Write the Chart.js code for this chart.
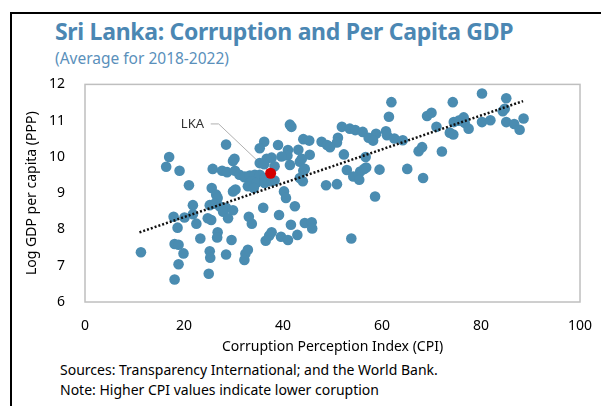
<!DOCTYPE html>
<html>
<head>
<meta charset="utf-8">
<script src="https://cdn.jsdelivr.net/npm/chart.js@4.4.1/dist/chart.umd.min.js"></script>
<style>
    body { margin: 0; background: #fff; width: 601px; height: 406px; overflow: hidden; font-family: "Noto Sans", sans-serif; }
    #frame { position: absolute; left: 10px; top: 12px; width: 600px; height: 400px; border-left: 2px solid #000; border-top: 2px solid #000; }
    #title { position: absolute; left: 55px; top: 15px; font-size: 23px; font-weight: bold; color: #4b87b3; letter-spacing: -0.3px; white-space: nowrap; }
    #subtitle { position: absolute; left: 55px; top: 47px; font-size: 15.5px; color: #5a90bb; white-space: nowrap; }
    #wrap { position: absolute; left: 0; top: 64px; width: 601px; height: 291px; }
    .note { position: absolute; left: 60px; font-size: 14px; color: #000; white-space: nowrap; }
</style>
</head>
<body>
<div id="frame"></div>
<div id="title">Sri Lanka: Corruption and Per Capita GDP</div>
<div id="subtitle">(Average for 2018-2022)</div>
<div id="wrap"><canvas id="chart"></canvas></div>
<div class="note" style="top: 360px;">Sources: Transparency International; and the World Bank.</div>
<div class="note" style="top: 380px;">Note: Higher CPI values indicate lower coruption</div>
<script>
// country points: CPI score and log GDP per capita (PPP)
const cpiValues = [
    11.3, 17.0, 16.4, 19.1, 25.8, 27.7, 28.7, 30.3, 29.9, 30.2,
    28.5, 32.2, 21.0, 25.6, 26.5, 26.8, 29.9, 30.4, 21.8, 25.2,
    26.2, 27.2, 28.5, 27.9, 29.9, 17.9, 20.1, 21.8, 22.5, 24.8,
    25.5, 28.9, 18.7, 26.8, 26.7, 23.3, 29.6, 18.1, 18.9, 19.9,
    25.2, 25.3, 28.5, 32.9, 32.4, 32.2, 18.9, 25.0, 18.1,
    61.9, 61.4, 41.4, 41.7, 51.9, 53.5, 54.6, 56.1, 58.8, 60.8,
    61.0, 57.3, 58.2, 62.5, 64.2, 44.1, 45.3, 51.1, 50.9, 47.8,
    48.9, 49.5, 36.2, 35.3, 39.0, 41.0, 40.9, 43.1, 45.4, 52.3,
    56.7, 39.7, 36.7, 37.7, 35.3, 36.2, 38.3, 41.4, 43.4, 43.8,
    44.1, 44.4, 52.9, 55.6, 56.4, 56.8, 59.5, 65.1, 54.2, 55.4,
    44.0, 43.4, 48.7, 50.9, 40.2, 40.6, 58.6, 31.2, 32.3, 33.3,
    34.3, 35.3, 36.3, 38.3, 33.6, 34.6, 36.3, 32.9, 34.1, 37.7,
    36.0, 42.4, 39.2, 33.1, 33.7, 41.6, 44.4, 45.8, 45.9, 37.7,
    37.2, 36.5, 39.6, 41.0, 42.9, 53.8,
    80.2, 85.1, 74.3, 69.1, 70.0, 71.0, 74.5, 75.5, 76.5, 76.7,
    77.5, 73.7, 74.4, 80.2, 81.9, 84.4, 84.8, 85.1, 86.7, 87.8,
    88.6, 67.4, 68.1, 72.1, 68.3
];
const gdpValues = [
    7.37, 10.00, 9.73, 9.62, 9.67, 9.62, 9.58, 9.62, 9.89, 9.95,
    10.34, 9.44, 9.22, 9.14, 8.96, 8.87, 9.05, 9.10, 8.67, 8.67,
    8.71, 8.64, 8.60, 8.49, 8.53, 8.35, 8.33, 8.42, 8.16, 8.31,
    8.26, 8.31, 8.05, 7.92, 7.78, 7.75, 7.71, 7.60, 7.58, 7.34,
    7.40, 7.22, 7.31, 7.44, 7.33, 7.16, 7.04, 6.78, 6.62,
    11.51, 11.11, 10.89, 10.83, 10.83, 10.78, 10.74, 10.69, 10.64, 10.71,
    10.60, 10.53, 10.45, 10.51, 10.46, 10.49, 10.45, 10.53, 10.40, 10.42,
    10.33, 10.27, 10.42, 10.24, 10.33, 10.19, 10.04, 10.20, 10.06, 10.07,
    10.00, 10.01, 9.95, 9.98, 9.83, 9.80, 9.74, 9.78, 9.87, 9.95,
    9.62, 9.67, 9.64, 9.60, 9.67, 9.71, 9.65, 9.67, 9.46, 9.37,
    9.33, 9.42, 9.22, 9.25, 9.05, 8.87, 8.91, 9.51, 9.46, 9.49,
    9.51, 9.51, 9.42, 9.35, 9.33, 9.28, 9.28, 9.19, 9.14, 9.33,
    8.60, 8.64, 8.40, 8.35, 8.16, 8.13, 8.18, 8.20, 8.03, 7.92,
    7.83, 7.69, 7.80, 7.71, 7.85, 7.75,
    11.75, 11.62, 11.51, 11.13, 11.22, 10.83, 10.96, 11.00, 11.09, 10.94,
    10.78, 10.67, 10.62, 10.96, 11.01, 11.26, 11.33, 10.96, 10.91, 10.75,
    11.06, 10.16, 10.27, 10.15, 9.42
];

// Sri Lanka
const lkaCpi = [37.5];
const lkaGdp = [9.55];
const lkaLabel = 'LKA';
const lkaLabelAt = { x: 21.7, y: 10.91 };
const leaderCpi = [25.4, 27.0, 36.9];
const leaderGdp = [10.91, 10.91, 9.63];

// linear trend
const trendCpi = [11.0, 88.5];
const trendGdp = [7.92, 11.54];

const xTicks = [0, 20, 40, 60, 80, 100];
const yTicks = [6, 7, 8, 9, 10, 11, 12];

function toPoints(xs, ys) {
    return xs.map((x, i) => ({ x: x, y: ys[i] }));
}

const tickFont = { family: 'Noto Sans', size: 14 };

const boxPlugin = {
    id: 'box',
    beforeDatasetsDraw(chart) {
        const a = chart.chartArea;
        const ctx = chart.ctx;
        ctx.save();
        ctx.strokeStyle = '#bfbfbf';
        ctx.lineWidth = 1.5;
        ctx.strokeRect(a.left, a.top, a.right - a.left, a.bottom - a.top);
        ctx.restore();
    },
    afterDatasetsDraw(chart) {
        const ctx = chart.ctx;
        ctx.save();
        ctx.font = '13px "Noto Sans"';
        ctx.fillStyle = '#333';
        ctx.textAlign = 'center';
        ctx.textBaseline = 'middle';
        ctx.fillText(lkaLabel, chart.scales.x.getPixelForValue(lkaLabelAt.x), chart.scales.y.getPixelForValue(lkaLabelAt.y));
        ctx.restore();
    }
};

new Chart(document.getElementById('chart'), {
    type: 'scatter',
    data: {
        datasets: [
            {
                label: 'Trend',
                type: 'line',
                data: toPoints(trendCpi, trendGdp),
                borderColor: '#111',
                borderWidth: 2.5,
                borderDash: [2, 2],
                pointRadius: 0,
                order: 0,
            },
            {
                label: 'LKA',
                data: toPoints(lkaCpi, lkaGdp),
                backgroundColor: '#d40000',
                pointRadius: 5.5,
                borderWidth: 0,
                order: 1,
            },
            {
                label: 'Countries',
                data: toPoints(cpiValues, gdpValues),
                backgroundColor: '#4a8cb1',
                pointRadius: 5.3,
                borderWidth: 0,
                order: 2,
            },
            {
                label: 'Leader',
                type: 'line',
                data: toPoints(leaderCpi, leaderGdp),
                borderColor: '#b0b0b0',
                borderWidth: 1,
                pointRadius: 0,
                order: 3,
            },
        ],
    },
    options: {
        animation: false,
        responsive: true,
        maintainAspectRatio: false,
        layout: { padding: { left: 24, right: 21, top: 6, bottom: 0 } },
        plugins: {
            legend: { display: false },
            tooltip: { enabled: false },
        },
        scales: {
            x: {
                type: 'linear',
                min: 0,
                max: 100,
                afterBuildTicks: (s) => { s.ticks = xTicks.map(v => ({ value: v })); },
                grid: { display: false },
                border: { display: false },
                ticks: { padding: 8, color: '#000', font: tickFont, maxRotation: 0 },
                title: { display: true, text: 'Corruption Perception Index (CPI)', color: '#000', font: tickFont, padding: { top: 0, bottom: 0 } },
                afterFit: (s) => { s.height = 53; },
            },
            y: {
                type: 'linear',
                min: 6,
                max: 12,
                afterBuildTicks: (s) => { s.ticks = yTicks.map(v => ({ value: v })); },
                grid: { display: false },
                border: { display: false },
                ticks: { padding: 12, color: '#000', font: tickFont },
                title: { display: true, text: 'Log GDP per capita (PPP)', color: '#000', font: tickFont, padding: { top: 0, bottom: 0 } },
                afterFit: (s) => { s.width = 61; },
            },
        },
    },
    plugins: [boxPlugin],
});
</script>
</body>
</html>
